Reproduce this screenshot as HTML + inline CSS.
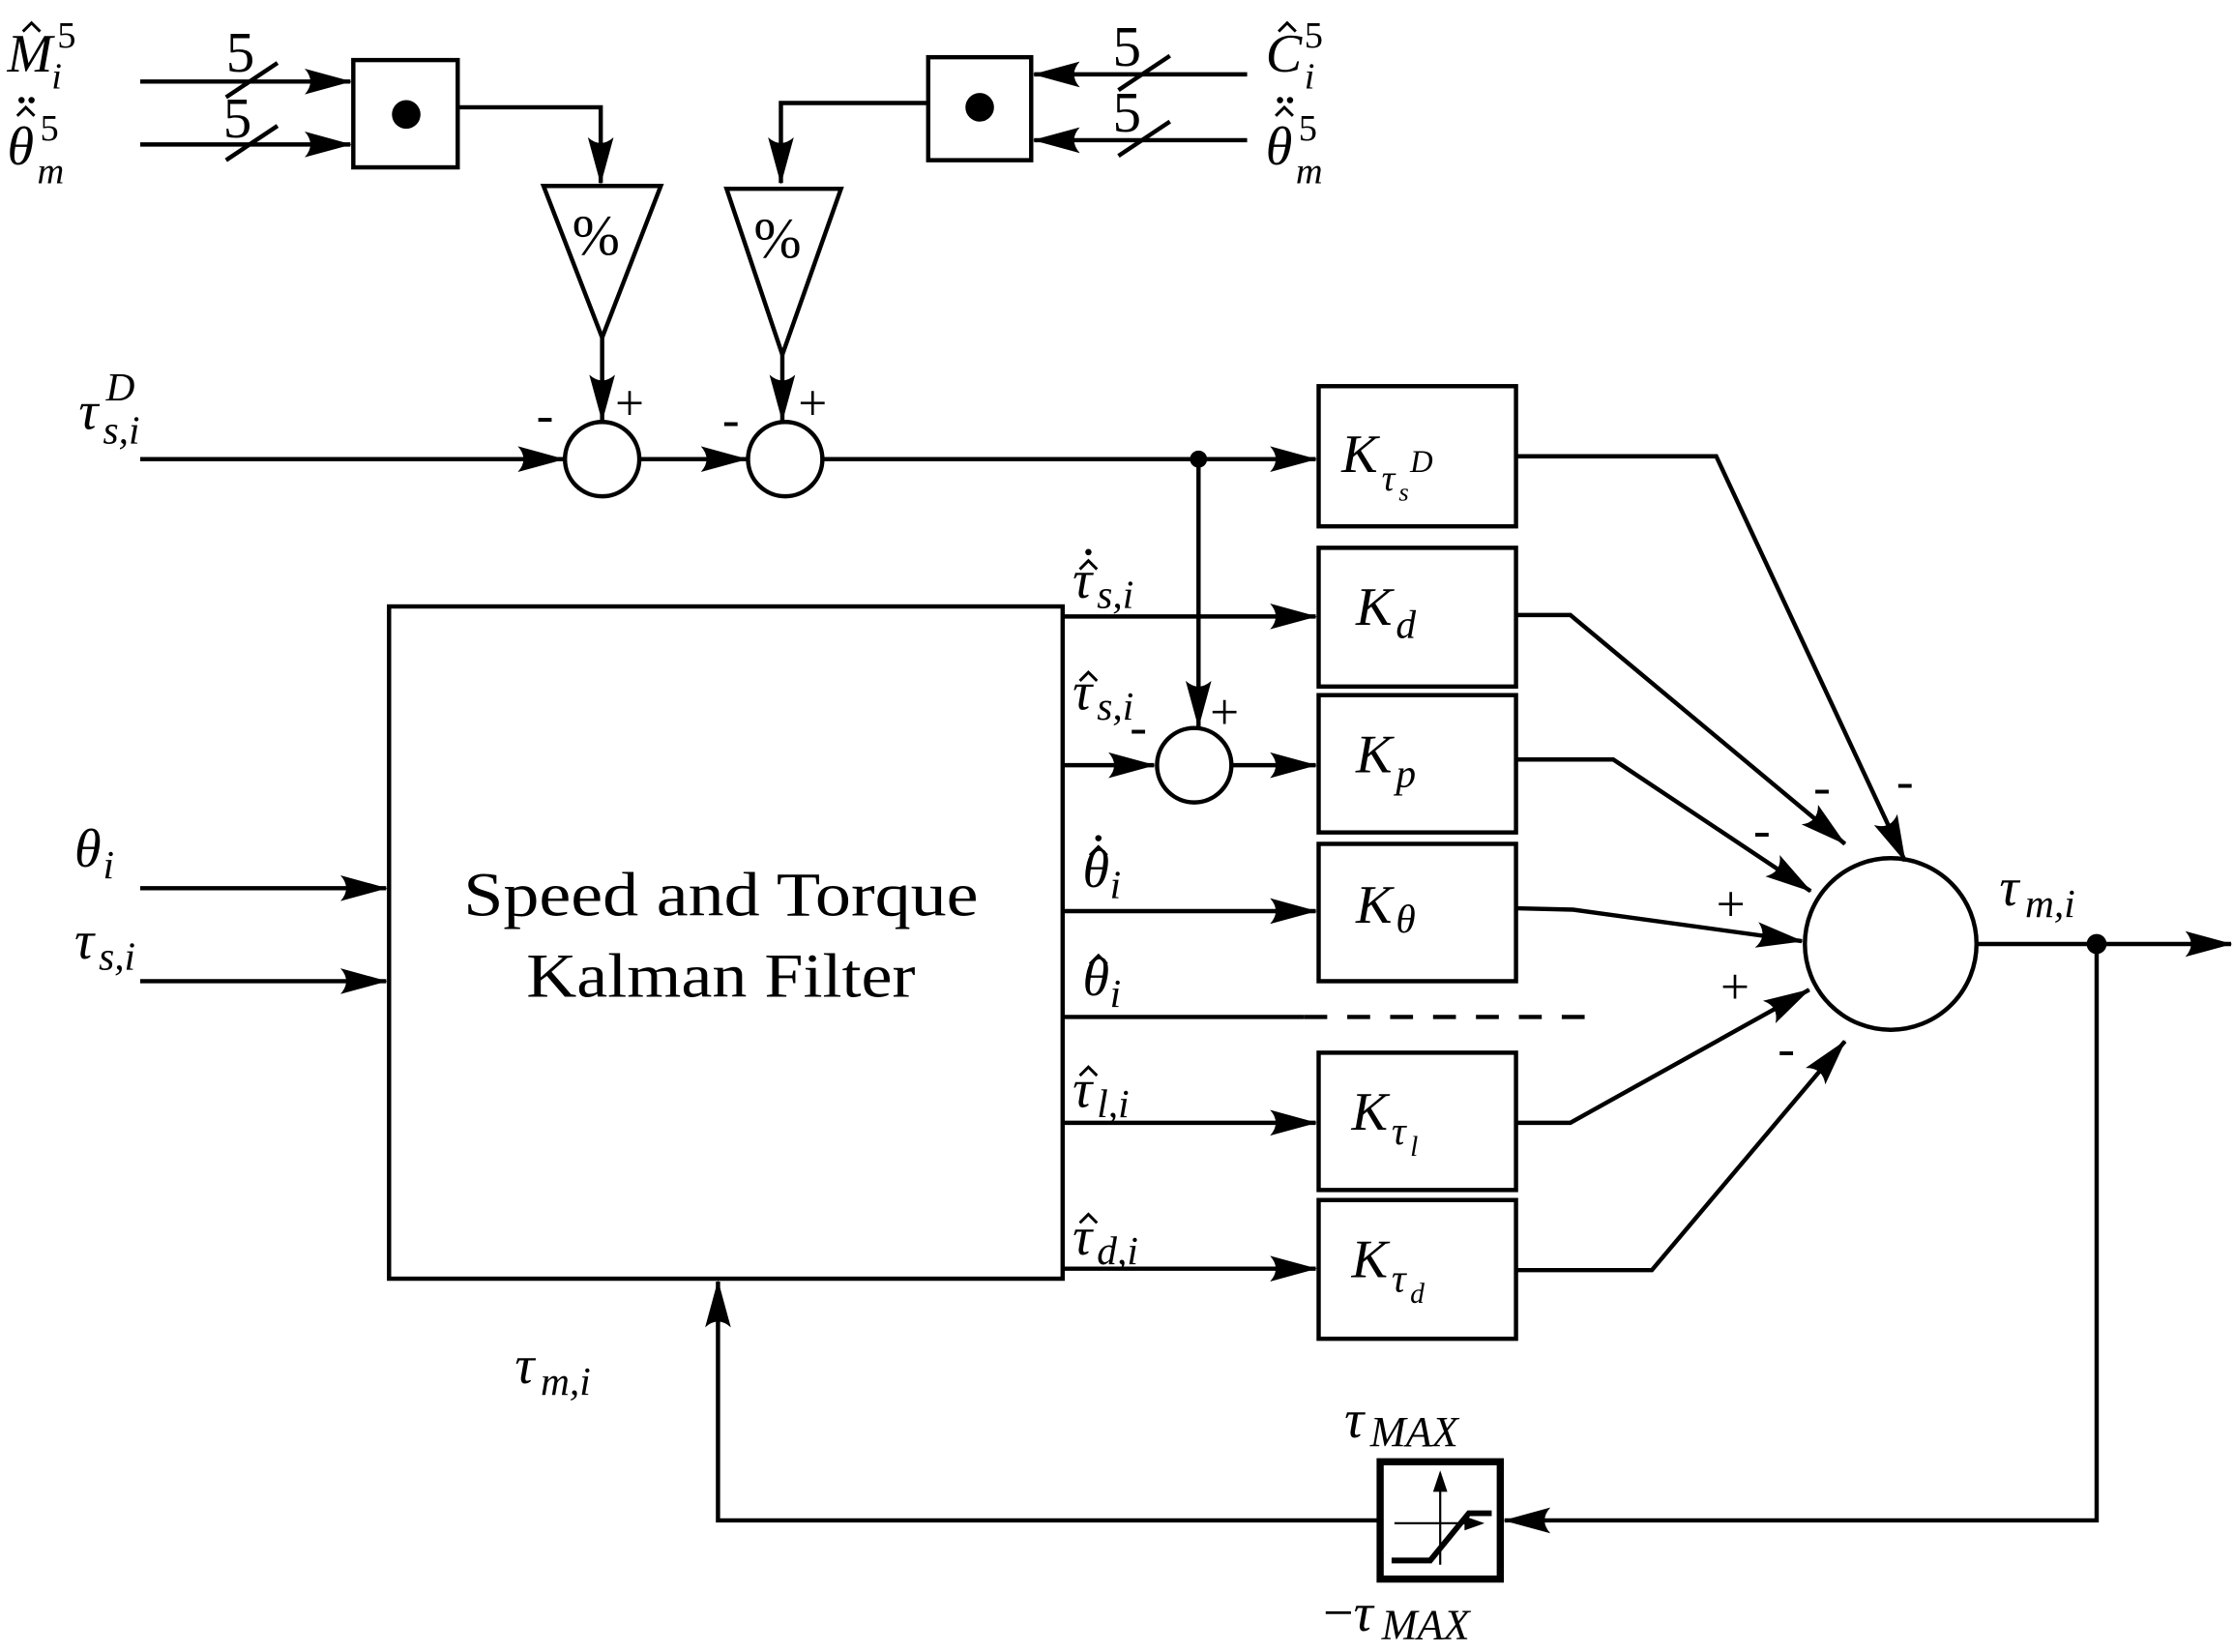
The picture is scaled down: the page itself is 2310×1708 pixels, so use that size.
<!DOCTYPE html>
<html><head><meta charset="utf-8"><style>
html,body{margin:0;padding:0;background:#fff;}
svg{display:block}
text{font-family:"Liberation Serif",serif;fill:#000}
.it{font-style:italic}
</style></head><body>
<svg width="2310" height="1708" viewBox="0 0 1562 1155" xmlns="http://www.w3.org/2000/svg">
<defs>
<marker id="a" markerWidth="34" markerHeight="20" refX="32" refY="10" orient="auto" markerUnits="userSpaceOnUse">
<path d="M0,1 Q8,10 0,19 L33,10 Z" fill="#000"/></marker>
</defs>
<g stroke="#000" stroke-width="3" fill="none">
<line x1="98" y1="57" x2="245" y2="57" marker-end="url(#a)"/>
<line x1="98" y1="101" x2="245" y2="101" marker-end="url(#a)"/>
<line x1="158" y1="68" x2="194" y2="44"/>
<line x1="158" y1="112" x2="194" y2="88"/>
<rect x="247" y="42" width="73" height="75"/>
<polyline points="320,75 420,75 420,128" marker-end="url(#a)"/>
<polygon points="380,130 462,130 421,236"/>
<line x1="421" y1="236" x2="421" y2="294" marker-end="url(#a)"/>
<circle cx="421" cy="321" r="26"/>
<line x1="872" y1="52" x2="723" y2="52" marker-end="url(#a)"/>
<line x1="872" y1="98" x2="723" y2="98" marker-end="url(#a)"/>
<line x1="782" y1="63" x2="818" y2="39"/>
<line x1="782" y1="109" x2="818" y2="85"/>
<rect x="649" y="40" width="72" height="72"/>
<polyline points="649,72 546,72 546,128" marker-end="url(#a)"/>
<polygon points="508,132 588,132 547,248"/>
<line x1="547" y1="248" x2="547" y2="294" marker-end="url(#a)"/>
<circle cx="549" cy="321" r="26"/>
<line x1="98" y1="321" x2="394" y2="321" marker-end="url(#a)"/>
<line x1="447" y1="321" x2="522" y2="321" marker-end="url(#a)"/>
<line x1="575" y1="321" x2="920" y2="321" marker-end="url(#a)"/>
<line x1="838" y1="321" x2="838" y2="508" marker-end="url(#a)"/>
<circle cx="835" cy="535" r="26"/>
<rect x="922" y="270" width="138" height="98"/>
<rect x="922" y="383" width="138" height="97"/>
<rect x="922" y="486" width="138" height="96"/>
<rect x="922" y="590" width="138" height="96"/>
<rect x="922" y="736" width="138" height="96"/>
<rect x="922" y="839" width="138" height="97"/>
<rect x="272" y="424" width="471" height="470"/>
<line x1="743" y1="431" x2="920" y2="431" marker-end="url(#a)"/>
<line x1="743" y1="535" x2="807" y2="535" marker-end="url(#a)"/>
<line x1="861" y1="535" x2="920" y2="535" marker-end="url(#a)"/>
<line x1="743" y1="637" x2="920" y2="637" marker-end="url(#a)"/>
<line x1="743" y1="711" x2="912" y2="711"/>
<line x1="912" y1="711" x2="1110" y2="711" stroke-dasharray="16,14"/>
<line x1="743" y1="785" x2="920" y2="785" marker-end="url(#a)"/>
<line x1="743" y1="887" x2="920" y2="887" marker-end="url(#a)"/>
<line x1="98" y1="621" x2="270" y2="621" marker-end="url(#a)"/>
<line x1="98" y1="686" x2="270" y2="686" marker-end="url(#a)"/>
<circle cx="1322" cy="660" r="60"/>
<polyline points="1060,319 1200,319 1332,602" marker-end="url(#a)"/>
<polyline points="1060,430 1098,430 1290,590" marker-end="url(#a)"/>
<polyline points="1060,531 1128,531 1266,623" marker-end="url(#a)"/>
<polyline points="1060,635 1100,636 1260,658" marker-end="url(#a)"/>
<polyline points="1060,785 1098,785 1265,692" marker-end="url(#a)"/>
<polyline points="1060,888 1155,888 1290,728" marker-end="url(#a)"/>
<line x1="1382" y1="660" x2="1560" y2="660" marker-end="url(#a)"/>
<polyline points="1466,660 1466,1063 1052,1063" marker-end="url(#a)"/>
<rect x="965" y="1022" width="84" height="82" stroke-width="5"/>
<polyline points="963,1063 502,1063 502,896" marker-end="url(#a)"/>
<line x1="1007" y1="1094" x2="1007" y2="1030" stroke-width="1.5"/>
<line x1="975" y1="1065" x2="1036" y2="1065" stroke-width="1.5"/>
<polyline points="973,1091 1000,1091 1027,1058 1043,1058" stroke-width="4"/>
</g>
<polygon points="1007,1028 1002,1043 1012,1043" fill="#000"/>
<polygon points="1038,1065 1024,1060 1024,1070" fill="#000"/>
<circle cx="284" cy="80" r="10" fill="#000"/>
<circle cx="685" cy="75" r="10" fill="#000"/>
<circle cx="838" cy="321" r="6" fill="#000"/>
<circle cx="1466" cy="660" r="7" fill="#000"/>
<g stroke="#000" stroke-width="2" fill="none">
<polyline points="16,22 22,16 28,22"/>
<polyline points="12,81 18,75 24,81"/>
<polyline points="894,22 900,16 906,22"/>
<polyline points="892,81 898,75 904,81"/>
<polyline points="755,398 761,392 767,398"/>
<polyline points="755,476 761,470 767,476"/>
<polyline points="762,598 768,592 774,598"/>
<polyline points="762,674 768,668 774,674"/>
<polyline points="755,752 761,746 767,752"/>
<polyline points="755,855 761,849 767,855"/>
</g>
<g fill="#000">
<circle cx="15" cy="70" r="2.2"/><circle cx="22" cy="70" r="2.2"/>
<circle cx="895" cy="70" r="2.2"/><circle cx="902" cy="70" r="2.2"/>
<circle cx="761" cy="386" r="2.2"/>
<circle cx="768" cy="586" r="2.2"/>
</g>
<g font-size="40">
<text x="158" y="50">5</text><text x="156" y="96">5</text>
<text x="778" y="46">5</text><text x="778" y="92">5</text>
<text x="400" y="178">%</text><text x="527" y="180">%</text>
<text x="324" y="640" font-size="44" textLength="360" lengthAdjust="spacingAndGlyphs">Speed and Torque</text>
<text x="368" y="697" font-size="44" textLength="272" lengthAdjust="spacingAndGlyphs">Kalman Filter</text>
</g>
<g font-size="38" class="it">
<text x="5" y="50">M</text><text x="40" y="33" font-size="26" font-style="normal">5</text><text x="36" y="62" font-size="26">i</text>
<text x="5" y="115">θ</text><text x="28" y="98" font-size="26" font-style="normal">5</text><text x="26" y="128" font-size="26">m</text>
<text x="885" y="50">C</text><text x="912" y="33" font-size="26" font-style="normal">5</text><text x="912" y="62" font-size="26">i</text>
<text x="885" y="115">θ</text><text x="908" y="98" font-size="26" font-style="normal">5</text><text x="906" y="128" font-size="26">m</text>
<text x="55" y="300">τ</text><text x="74" y="280" font-size="28">D</text><text x="72" y="310" font-size="28">s,i</text>
<text x="938" y="330">K</text><text x="966" y="343" font-size="26">τ</text><text x="978" y="350" font-size="18">s</text><text x="986" y="330" font-size="22">D</text>
<text x="948" y="437">K</text><text x="976" y="446" font-size="28">d</text>
<text x="948" y="540">K</text><text x="976" y="550" font-size="28">p</text>
<text x="948" y="645">K</text><text x="976" y="652" font-size="28">θ</text>
<text x="945" y="790">K</text><text x="973" y="800" font-size="28">τ</text><text x="986" y="808" font-size="20">l</text>
<text x="945" y="893">K</text><text x="973" y="903" font-size="28">τ</text><text x="986" y="911" font-size="20">d</text>
<text x="750" y="418">τ</text><text x="767" y="425" font-size="28">s,i</text>
<text x="750" y="496">τ</text><text x="767" y="503" font-size="28">s,i</text>
<text x="757" y="620">θ</text><text x="776" y="628" font-size="28">i</text>
<text x="757" y="696">θ</text><text x="776" y="704" font-size="28">i</text>
<text x="750" y="774">τ</text><text x="767" y="781" font-size="28">l,i</text>
<text x="750" y="877">τ</text><text x="767" y="884" font-size="28">d,i</text>
<text x="52" y="606">θ</text><text x="72" y="614" font-size="28">i</text>
<text x="52" y="670">τ</text><text x="69" y="678" font-size="28">s,i</text>
<text x="1398" y="633">τ</text><text x="1416" y="641" font-size="28">m,i</text>
<text x="360" y="967">τ</text><text x="378" y="975" font-size="28">m,i</text>
<text x="940" y="1005">τ</text><text x="958" y="1011" font-size="30">MAX</text>
<text x="925" y="1140"><tspan font-style="normal">−</tspan>τ</text><text x="966" y="1146" font-size="30">MAX</text>
</g>
<g font-size="36">
<text x="375" y="302">-</text><text x="430" y="294">+</text>
<text x="505" y="305">-</text><text x="558" y="294">+</text>
<text x="790" y="520">-</text><text x="846" y="510">+</text>
<text x="1268" y="562">-</text><text x="1326" y="558">-</text>
<text x="1226" y="592">-</text><text x="1200" y="644">+</text>
<text x="1203" y="702">+</text><text x="1243" y="745">-</text>
</g>
</svg>
</body></html>
